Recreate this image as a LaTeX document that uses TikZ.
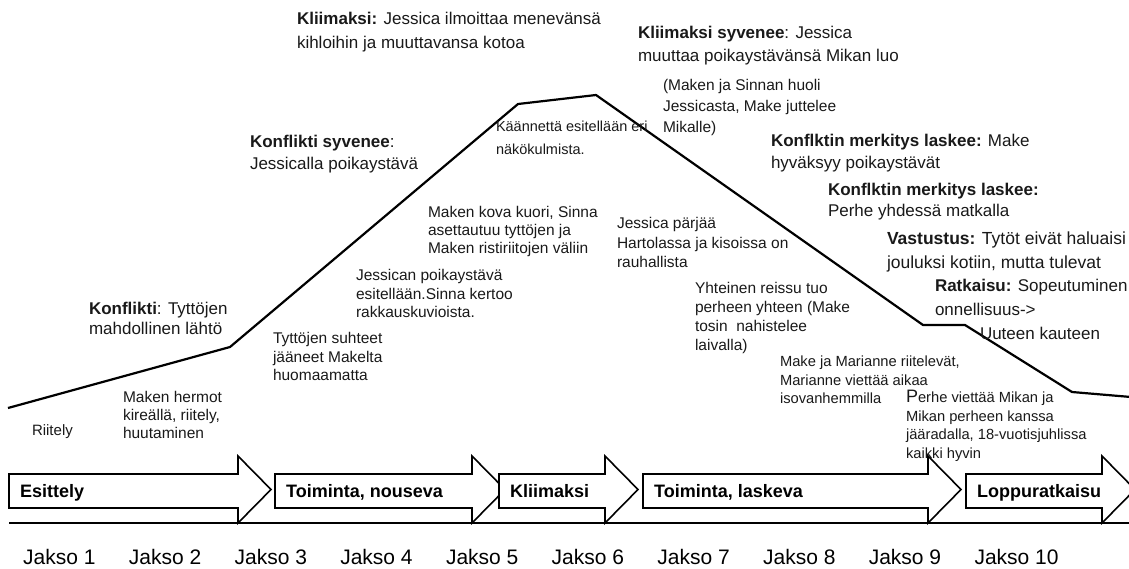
\documentclass[tikz,border=0pt]{standalone}
\usepackage{fontspec}
\setmainfont{Liberation Sans}
\usepackage{tikz}
\usetikzlibrary{calc,positioning}
\tikzstyle{note}=[
  anchor=north west,
  align=left,
  inner sep=0pt,
  outer sep=0pt,
  text=black!90,
]
\tikzstyle{phase}=[
  draw=black,
  fill=white,
  line width=1.6pt,
  line join=miter,
]
\tikzstyle{phaselabel}=[
  anchor=base west,
  inner sep=0pt,
  font={\fontsize{18}{18}\selectfont\bfseries},
]
\tikzstyle{jakso}=[
  anchor=base west,
  inner sep=0pt,
  font={\fontsize{21}{21}\selectfont},
]
\tikzstyle{plotline}=[
  draw=black,
  line width=2.2pt,
  line join=round,
]
\newcommand{\fs}[2]{\fontsize{#1}{#2}\selectfont}
\tikzset{
  x=1pt,
  y=-1pt,
}
\begin{document}
\begin{tikzpicture}
  \useasboundingbox (0,0) rectangle (1129,568);
  %% story line
  \coordinate (p0) at (8,408);
  \coordinate (p1) at (230,347);
  \coordinate (p2) at (518,104);
  \coordinate (p3) at (596,95);
  \coordinate (p4) at (923,325);
  \coordinate (p5) at (965,325);
  \coordinate (p6) at (1072,392);
  \coordinate (p7) at (1131,397);
  \draw [plotline] (p0) -- (p1) -- (p2) -- (p3) -- (p4) -- (p5) -- (p6) -- (p7);
  %% notes above and below the line
  \node (ilmoitus) [note, font=\fs{17}{24}] at (297,12)
    {\textbf{Kliimaksi:} Jessica ilmoittaa menevänsä\\kihloihin ja muuttavansa kotoa};
  \node (muutto) [note, font=\fs{17}{23}] at (638,26)
    {\textbf{Kliimaksi syvenee}: Jessica\\muuttaa poikaystävänsä Mikan luo};
  \node (huoli) [note, font=\fs{15.5}{21}] at (663,79.5)
    {(Maken ja Sinnan huoli\\Jessicasta, Make juttelee\\Mikalle)};
  \node (syvenee) [note, font=\fs{17}{22}] at (250,135)
    {\textbf{Konflikti syvenee}:\\Jessicalla poikaystävä};
  \node (kaanne) [note, font=\fs{14.5}{23}] at (496,121)
    {Käännettä esitellään eri\\näkökulmista.};
  \node (merkitys) [note, font=\fs{17}{22}] at (771,134)
    {\textbf{Konflktin merkitys laskee:} Make\\hyväksyy poikaystävät};
  \node (matka) [note, font=\fs{17}{21}] at (828,183)
    {\textbf{Konflktin merkitys laskee:}\\Perhe yhdessä matkalla};
  \node (vastustus) [note, font=\fs{17.5}{24}] at (887,232)
    {\textbf{Vastustus:} Tytöt eivät haluaisi\\jouluksi kotiin, mutta tulevat};
  \node (ratkaisu) [note, font=\fs{17}{24}] at (935,279)
    {\textbf{Ratkaisu:} Sopeutuminen\\onnellisuus->\\\hspace*{45pt}Uuteen kauteen};
  \node (kuori) [note, font=\fs{15.5}{18}] at (428,206.5)
    {Maken kova kuori, Sinna\\asettautuu tyttöjen ja\\Maken ristiriitojen väliin};
  \node (parjaa) [note, font=\fs{15.5}{19.5}] at (617,217.5)
    {Jessica pärjää\\Hartolassa ja kisoissa on\\rauhallista};
  \node (poikaystava) [note, font=\fs{15.5}{18.5}] at (356,269.5)
    {Jessican poikaystävä\\esitellään.Sinna kertoo\\rakkauskuvioista.};
  \node (reissu) [note, font=\fs{15.5}{19}] at (695,282.5)
    {Yhteinen reissu tuo\\perheen yhteen (Make\\tosin\ \ nahistelee\\laivalla)};
  \node (konflikti) [note, font=\fs{17}{20}] at (89,302)
    {\textbf{Konflikti}: Tyttöjen\\mahdollinen lähtö};
  \node (suhteet) [note, font=\fs{15.5}{18.5}] at (273,332.5)
    {Tyttöjen suhteet\\jääneet Makelta\\huomaamatta};
  \node (marianne) [note, font=\fs{14.7}{18.5}] at (780,356)
    {Make ja Marianne riitelevät,\\Marianne viettää aikaa\\isovanhemmilla};
  \node (hermot) [note, font=\fs{15.5}{18}] at (123,391.5)
    {Maken hermot\\kireällä, riitely,\\huutaminen};
  \node (riitely) [note, font=\fs{15}{18}] at (32,424.5) {Riitely};
  \node (jaarata) [note, font=\fs{14.7}{18.5}] at (906,390.5)
    {{\fs{18}{18}P}erhe viettää Mikan ja\\Mikan perheen kanssa\\jääradalla, 18-vuotisjuhlissa\\kaikki hyvin};
  %% phases
  \coordinate (t0) at (9,523);
  \coordinate (t1) at (1129,523);
  \draw [phase] (t0) -- (t1);
  \foreach \xa/\xb/\name/\txt in {9/238/esittely/Esittely,
      275/472/nouseva/{Toiminta, nouseva},
      499/605/huippu/Kliimaksi,
      643/928/laskeva/{Toiminta, laskeva},
      966/1102/loppu/Loppuratkaisu} {
    \draw [phase] (\xa,474) -- (\xb,474) -- (\xb,456) -- (\xb+33,489.5)
      -- (\xb,523) -- (\xb,508) -- (\xa,508) -- cycle;
    \node (\name) [phaselabel] at (\xa+11,497) {\txt};
  }
  %% episodes
  \foreach \i in {1,...,10}
    \node (jakso\i) [jakso] at ({23+105.7*(\i-1)},564.5) {Jakso \i};
\end{tikzpicture}
\end{document}
